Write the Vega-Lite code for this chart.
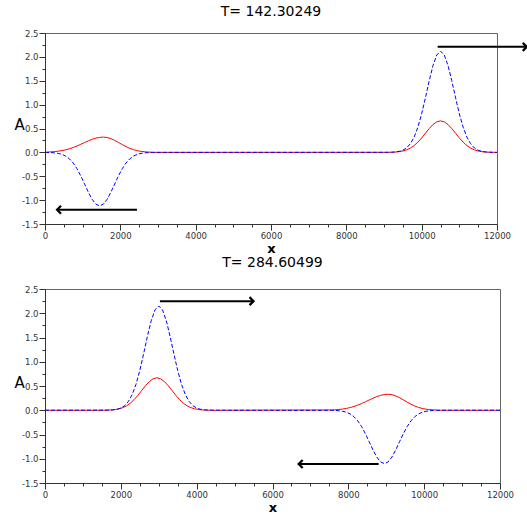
{
  "$schema": "https://vega.github.io/schema/vega-lite/v6.json",
  "padding": {"left": 13, "top": 4, "right": 0, "bottom": 0},
  "background": "white",
  "datasets": {
    "t_red": [
      {"x": 0, "A": 0}, {"x": 50, "A": 0.006}, {"x": 150, "A": 0.010}, {"x": 250, "A": 0.016}, {"x": 350, "A": 0.025},
      {"x": 450, "A": 0.037}, {"x": 550, "A": 0.054}, {"x": 650, "A": 0.076}, {"x": 750, "A": 0.102}, {"x": 850, "A": 0.134},
      {"x": 950, "A": 0.169}, {"x": 1050, "A": 0.205}, {"x": 1150, "A": 0.241}, {"x": 1250, "A": 0.273}, {"x": 1350, "A": 0.298},
      {"x": 1450, "A": 0.314}, {"x": 1550, "A": 0.32}, {"x": 1650, "A": 0.311}, {"x": 1750, "A": 0.287}, {"x": 1850, "A": 0.251},
      {"x": 1950, "A": 0.208}, {"x": 2050, "A": 0.163}, {"x": 2150, "A": 0.121}, {"x": 2250, "A": 0.085}, {"x": 2350, "A": 0.057},
      {"x": 2450, "A": 0.036}, {"x": 2550, "A": 0.021}, {"x": 2650, "A": 0.012}, {"x": 2750, "A": 0.006}, {"x": 2850, "A": 0.003},
      {"x": 2950, "A": 0},
      {"x": 9100, "A": 0.001}, {"x": 9200, "A": 0.003}, {"x": 9300, "A": 0.007}, {"x": 9400, "A": 0.015}, {"x": 9500, "A": 0.029},
      {"x": 9600, "A": 0.053}, {"x": 9700, "A": 0.089}, {"x": 9800, "A": 0.143}, {"x": 9900, "A": 0.215}, {"x": 10000, "A": 0.302},
      {"x": 10100, "A": 0.401}, {"x": 10200, "A": 0.498}, {"x": 10300, "A": 0.582}, {"x": 10400, "A": 0.640}, {"x": 10500, "A": 0.66},
      {"x": 10600, "A": 0.640}, {"x": 10700, "A": 0.582}, {"x": 10800, "A": 0.498}, {"x": 10900, "A": 0.401}, {"x": 11000, "A": 0.302},
      {"x": 11100, "A": 0.215}, {"x": 11200, "A": 0.143}, {"x": 11300, "A": 0.089}, {"x": 11400, "A": 0.053}, {"x": 11500, "A": 0.029},
      {"x": 11600, "A": 0.015}, {"x": 11700, "A": 0.007}, {"x": 11800, "A": 0.003}, {"x": 11900, "A": 0.001}, {"x": 12000, "A": 0}
    ],
    "t_blue": [
      {"x": 0, "A": 0}, {"x": 50, "A": -0.002}, {"x": 150, "A": -0.004}, {"x": 250, "A": -0.010}, {"x": 350, "A": -0.021},
      {"x": 450, "A": -0.042}, {"x": 550, "A": -0.078}, {"x": 650, "A": -0.137}, {"x": 750, "A": -0.224}, {"x": 850, "A": -0.343},
      {"x": 950, "A": -0.493}, {"x": 1050, "A": -0.662}, {"x": 1150, "A": -0.833}, {"x": 1250, "A": -0.982}, {"x": 1350, "A": -1.084},
      {"x": 1450, "A": -1.12}, {"x": 1550, "A": -1.084}, {"x": 1650, "A": -0.982}, {"x": 1750, "A": -0.833}, {"x": 1850, "A": -0.662},
      {"x": 1950, "A": -0.493}, {"x": 2050, "A": -0.343}, {"x": 2150, "A": -0.224}, {"x": 2250, "A": -0.137}, {"x": 2350, "A": -0.078},
      {"x": 2450, "A": -0.042}, {"x": 2550, "A": -0.021}, {"x": 2650, "A": -0.010}, {"x": 2750, "A": -0.004}, {"x": 2850, "A": -0.002},
      {"x": 2950, "A": 0},
      {"x": 9100, "A": 0.001}, {"x": 9200, "A": 0.003}, {"x": 9300, "A": 0.008}, {"x": 9400, "A": 0.020}, {"x": 9500, "A": 0.045},
      {"x": 9600, "A": 0.093}, {"x": 9700, "A": 0.180}, {"x": 9800, "A": 0.320}, {"x": 9900, "A": 0.528}, {"x": 10000, "A": 0.808},
      {"x": 10100, "A": 1.143}, {"x": 10200, "A": 1.499}, {"x": 10300, "A": 1.817}, {"x": 10400, "A": 2.039}, {"x": 10500, "A": 2.12},
      {"x": 10600, "A": 2.039}, {"x": 10700, "A": 1.817}, {"x": 10800, "A": 1.499}, {"x": 10900, "A": 1.143}, {"x": 11000, "A": 0.808},
      {"x": 11100, "A": 0.528}, {"x": 11200, "A": 0.320}, {"x": 11300, "A": 0.180}, {"x": 11400, "A": 0.093}, {"x": 11500, "A": 0.045},
      {"x": 11600, "A": 0.020}, {"x": 11700, "A": 0.008}, {"x": 11800, "A": 0.003}, {"x": 11900, "A": 0.001}, {"x": 12000, "A": 0}
    ],
    "b_red": [
      {"x": 0, "A": 0}, {"x": 1550, "A": 0.001}, {"x": 1650, "A": 0.003}, {"x": 1750, "A": 0.007}, {"x": 1850, "A": 0.015},
      {"x": 1950, "A": 0.029}, {"x": 2050, "A": 0.053}, {"x": 2150, "A": 0.090}, {"x": 2250, "A": 0.145}, {"x": 2350, "A": 0.218},
      {"x": 2450, "A": 0.307}, {"x": 2550, "A": 0.407}, {"x": 2650, "A": 0.506}, {"x": 2750, "A": 0.591}, {"x": 2850, "A": 0.649},
      {"x": 2950, "A": 0.67}, {"x": 3050, "A": 0.649}, {"x": 3150, "A": 0.591}, {"x": 3250, "A": 0.506}, {"x": 3350, "A": 0.407},
      {"x": 3450, "A": 0.307}, {"x": 3550, "A": 0.218}, {"x": 3650, "A": 0.145}, {"x": 3750, "A": 0.090}, {"x": 3850, "A": 0.053},
      {"x": 3950, "A": 0.029}, {"x": 4050, "A": 0.015}, {"x": 4150, "A": 0.007}, {"x": 4250, "A": 0.003}, {"x": 4350, "A": 0.001},
      {"x": 4450, "A": 0},
      {"x": 7550, "A": 0.006}, {"x": 7650, "A": 0.010}, {"x": 7750, "A": 0.016}, {"x": 7850, "A": 0.025}, {"x": 7950, "A": 0.038},
      {"x": 8050, "A": 0.056}, {"x": 8150, "A": 0.078}, {"x": 8250, "A": 0.106}, {"x": 8350, "A": 0.138}, {"x": 8450, "A": 0.174},
      {"x": 8550, "A": 0.212}, {"x": 8650, "A": 0.248}, {"x": 8750, "A": 0.281}, {"x": 8850, "A": 0.307}, {"x": 8950, "A": 0.324},
      {"x": 9050, "A": 0.33}, {"x": 9150, "A": 0.321}, {"x": 9250, "A": 0.296}, {"x": 9350, "A": 0.259}, {"x": 9450, "A": 0.214},
      {"x": 9550, "A": 0.168}, {"x": 9650, "A": 0.125}, {"x": 9750, "A": 0.088}, {"x": 9850, "A": 0.058}, {"x": 9950, "A": 0.037},
      {"x": 10050, "A": 0.022}, {"x": 10150, "A": 0.013}, {"x": 10250, "A": 0.007}, {"x": 10350, "A": 0.003}, {"x": 10450, "A": 0},
      {"x": 12000, "A": 0}
    ],
    "b_blue": [
      {"x": 0, "A": 0}, {"x": 1600, "A": 0.001}, {"x": 1700, "A": 0.003}, {"x": 1800, "A": 0.008}, {"x": 1900, "A": 0.020},
      {"x": 2000, "A": 0.045}, {"x": 2100, "A": 0.094}, {"x": 2200, "A": 0.182}, {"x": 2300, "A": 0.325}, {"x": 2400, "A": 0.535},
      {"x": 2500, "A": 0.819}, {"x": 2600, "A": 1.159}, {"x": 2700, "A": 1.520}, {"x": 2800, "A": 1.843}, {"x": 2900, "A": 2.068},
      {"x": 3000, "A": 2.15}, {"x": 3100, "A": 2.068}, {"x": 3200, "A": 1.843}, {"x": 3300, "A": 1.520}, {"x": 3400, "A": 1.159},
      {"x": 3500, "A": 0.819}, {"x": 3600, "A": 0.535}, {"x": 3700, "A": 0.325}, {"x": 3800, "A": 0.182}, {"x": 3900, "A": 0.094},
      {"x": 4000, "A": 0.045}, {"x": 4100, "A": 0.020}, {"x": 4200, "A": 0.008}, {"x": 4300, "A": 0.003}, {"x": 4400, "A": 0.001},
      {"x": 4500, "A": 0},
      {"x": 7550, "A": -0.002}, {"x": 7650, "A": -0.004}, {"x": 7750, "A": -0.010}, {"x": 7850, "A": -0.021}, {"x": 7950, "A": -0.041},
      {"x": 8050, "A": -0.077}, {"x": 8150, "A": -0.134}, {"x": 8250, "A": -0.220}, {"x": 8350, "A": -0.337}, {"x": 8450, "A": -0.484},
      {"x": 8550, "A": -0.650}, {"x": 8650, "A": -0.818}, {"x": 8750, "A": -0.965}, {"x": 8850, "A": -1.065}, {"x": 8950, "A": -1.10},
      {"x": 9050, "A": -1.065}, {"x": 9150, "A": -0.965}, {"x": 9250, "A": -0.818}, {"x": 9350, "A": -0.650}, {"x": 9450, "A": -0.484},
      {"x": 9550, "A": -0.337}, {"x": 9650, "A": -0.220}, {"x": 9750, "A": -0.134}, {"x": 9850, "A": -0.077}, {"x": 9950, "A": -0.041},
      {"x": 10050, "A": -0.021}, {"x": 10150, "A": -0.010}, {"x": 10250, "A": -0.004}, {"x": 10350, "A": -0.002}, {"x": 10450, "A": 0},
      {"x": 12000, "A": 0}
    ],
    "t_arrows": [
      {"x": 10425, "x2": 12790, "y": 2.21, "dir": "r"},
      {"x": 2442, "x2": 320, "y": -1.2, "dir": "l"}
    ],
    "b_arrows": [
      {"x": 3031, "x2": 5500, "y": 2.25, "dir": "r"},
      {"x": 8800, "x2": 6690, "y": -1.11, "dir": "l"}
    ]
  },
  "vconcat": [
    {
      "title": {"text": "T= 142.30249", "offset": 10},
      "width": 452,
      "height": 191,
      "encoding": {
        "x": {"field": "x", "type": "quantitative", "title": "x", "scale": {"domain": [0, 12000], "nice": false, "zero": false},
          "axis": {
            "values": [0, 500, 1000, 1500, 2000, 2500, 3000, 3500, 4000, 4500, 5000, 5500, 6000, 6500, 7000, 7500, 8000, 8500, 9000, 9500, 10000, 10500, 11000, 11500, 12000],
            "labelExpr": "datum.value % 2000 === 0 ? format(datum.value, 'd') : ''",
            "tickSize": {"condition": {"test": "datum.value % 2000 !== 0", "value": 3}, "value": 6},
            "labelOverlap": false, "labelFlush": false, "titlePadding": 3}},
        "y": {"field": "A", "type": "quantitative", "title": "A", "scale": {"domain": [-1.5, 2.5], "nice": false, "zero": false},
          "axis": {
            "values": [-1.5, -1.25, -1, -0.75, -0.5, -0.25, 0, 0.25, 0.5, 0.75, 1, 1.25, 1.5, 1.75, 2, 2.25, 2.5],
            "labelExpr": "datum.value % 0.5 === 0 ? (datum.value < 0 ? '-' : '') + format(abs(datum.value), '.1f') : ''",
            "tickSize": {"condition": {"test": "datum.value % 0.5 !== 0", "value": 3}, "value": 6},
            "labelOverlap": false, "labelFlush": false, "titleX": -26, "titleY": 96}}
      },
      "layer": [
        {"data": {"name": "t_red"}, "mark": {"type": "line", "color": "#ff0000", "strokeWidth": 1}},
        {"data": {"name": "t_blue"}, "mark": {"type": "line", "color": "#0000ff", "strokeWidth": 1, "strokeDash": [4, 2]}},
        {"data": {"name": "t_arrows"}, "mark": {"type": "rule", "color": "black", "strokeWidth": 2},
         "encoding": {"x": {"field": "x", "type": "quantitative"}, "x2": {"field": "x2"}, "y": {"field": "y", "type": "quantitative"}}},
        {"data": {"name": "t_arrows"}, "mark": {"type": "point", "filled": false, "stroke": "black", "strokeWidth": 2.2, "size": 64, "opacity": 1},
         "encoding": {"x": {"field": "x2", "type": "quantitative"}, "y": {"field": "y", "type": "quantitative"},
           "shape": {"field": "dir", "type": "nominal", "scale": {"domain": ["l", "r"], "range": ["M 1 -1 L 0 0 L 1 1", "M -1 -1 L 0 0 L -1 1"]}, "legend": null}}}
      ]
    },
    {
      "title": {"text": "T= 284.60499", "offset": 15},
      "width": 455,
      "height": 194,
      "encoding": {
        "x": {"field": "x", "type": "quantitative", "title": "x", "scale": {"domain": [0, 12000], "nice": false, "zero": false},
          "axis": {
            "values": [0, 500, 1000, 1500, 2000, 2500, 3000, 3500, 4000, 4500, 5000, 5500, 6000, 6500, 7000, 7500, 8000, 8500, 9000, 9500, 10000, 10500, 11000, 11500, 12000],
            "labelExpr": "datum.value % 2000 === 0 ? format(datum.value, 'd') : ''",
            "tickSize": {"condition": {"test": "datum.value % 2000 !== 0", "value": 3}, "value": 6},
            "labelOverlap": false, "labelFlush": false, "titlePadding": 3}},
        "y": {"field": "A", "type": "quantitative", "title": "A", "scale": {"domain": [-1.5, 2.5], "nice": false, "zero": false},
          "axis": {
            "values": [-1.5, -1.25, -1, -0.75, -0.5, -0.25, 0, 0.25, 0.5, 0.75, 1, 1.25, 1.5, 1.75, 2, 2.25, 2.5],
            "labelExpr": "datum.value % 0.5 === 0 ? (datum.value < 0 ? '-' : '') + format(abs(datum.value), '.1f') : ''",
            "tickSize": {"condition": {"test": "datum.value % 0.5 !== 0", "value": 3}, "value": 6},
            "labelOverlap": false, "labelFlush": false, "titleX": -26, "titleY": 98}}
      },
      "layer": [
        {"data": {"name": "b_red"}, "mark": {"type": "line", "color": "#ff0000", "strokeWidth": 1}},
        {"data": {"name": "b_blue"}, "mark": {"type": "line", "color": "#0000ff", "strokeWidth": 1, "strokeDash": [4, 2]}},
        {"data": {"name": "b_arrows"}, "mark": {"type": "rule", "color": "black", "strokeWidth": 2},
         "encoding": {"x": {"field": "x", "type": "quantitative"}, "x2": {"field": "x2"}, "y": {"field": "y", "type": "quantitative"}}},
        {"data": {"name": "b_arrows"}, "mark": {"type": "point", "filled": false, "stroke": "black", "strokeWidth": 2.2, "size": 64, "opacity": 1},
         "encoding": {"x": {"field": "x2", "type": "quantitative"}, "y": {"field": "y", "type": "quantitative"},
           "shape": {"field": "dir", "type": "nominal", "scale": {"domain": ["l", "r"], "range": ["M 1 -1 L 0 0 L 1 1", "M -1 -1 L 0 0 L -1 1"]}, "legend": null}}}
      ]
    }
  ],
  "spacing": -1,
  "config": {
    "view": {"stroke": "#666666", "strokeWidth": 1},
    "title": {"font": "DejaVu Sans", "fontSize": 14, "fontWeight": "normal", "color": "black", "anchor": "middle"},
    "axisX": {
      "titleFontSize": 13, "titleFont": "DejaVu Sans", "titleFontWeight": "bold", "titleColor": "black"
    },
    "axisY": {
      "titleAngle": 0, "titleAlign": "center", "titleBaseline": "alphabetic",
      "titleFontSize": 15, "titleFont": "DejaVu Sans", "titleFontWeight": "normal", "titleColor": "black"
    },
    "axis": {
      "grid": false,
      "domainColor": "#333333",
      "tickColor": "#333333",
      "labelFont": "DejaVu Sans",
      "labelFontSize": 8.5,
      "labelColor": "#333333",
      "labelPadding": 1
    }
  }
}
